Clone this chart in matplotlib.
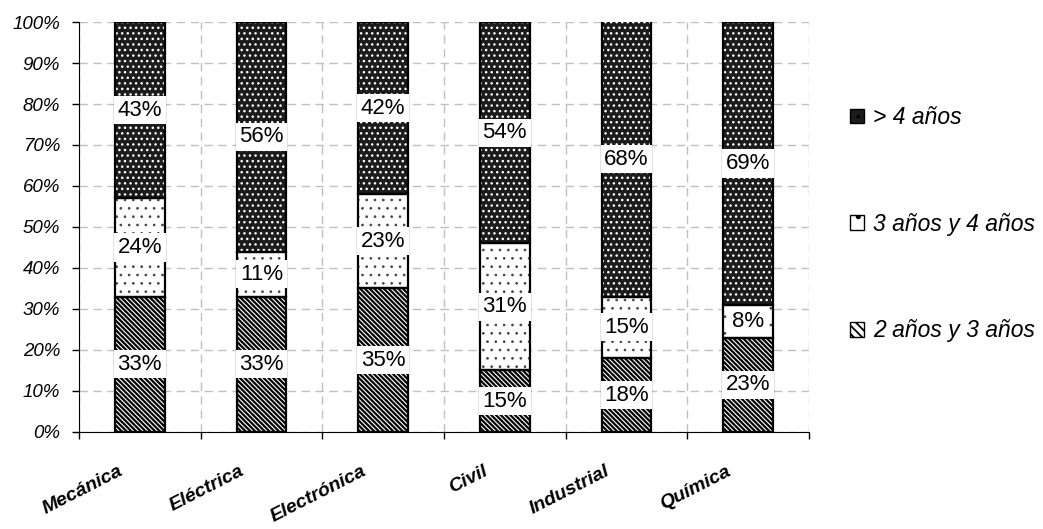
import numpy as np
import matplotlib
matplotlib.use("Agg")
import matplotlib.pyplot as plt
from matplotlib.patches import Patch
from matplotlib.ticker import FixedLocator, PercentFormatter
from matplotlib.transforms import ScaledTranslation

plt.rcParams['font.family'] = ['Liberation Sans', 'DejaVu Sans']
plt.rcParams['hatch.linewidth'] = 1.3

carreras = ['Mecánica', 'Eléctrica', 'Electrónica', 'Civil', 'Industrial', 'Química']
series = ['2 años y 3 años', '3 años y 4 años', '> 4 años']
dos_tres = [33, 33, 35, 15, 18, 23]
tres_cuatro = [24, 11, 23, 31, 15, 8]
mas_cuatro = [43, 56, 42, 54, 68, 69]

fig = plt.figure(figsize=(10.43, 5.29), dpi=100)
ax = fig.add_axes([0.0757, 0.1834, 0.6999, 0.7750])

x = np.arange(len(carreras))
ancho = 0.41

# fondo, trama, color de trama, grosor de trama
estilos = [
    ('white', '\\' * 7, 'black', 1.6),
    ('white', '..', '#444444', 0.7),
    ('#1c1c1c', '...', 'white', 1.0),
]

base = np.zeros(len(carreras))
for valores, (fondo, trama, color_trama, lw_trama) in zip([dos_tres, tres_cuatro, mas_cuatro], estilos):
    v = np.array(valores, dtype=float)
    barras = ax.bar(x, v, ancho, bottom=base, color=fondo, hatch=trama, edgecolor=color_trama,
                    linewidth=0, zorder=2)
    for p in barras:
        if hasattr(p, 'set_hatch_linewidth'):
            p.set_hatch_linewidth(lw_trama)
    ax.bar(x, v, ancho, bottom=base, fill=False, edgecolor='black', linewidth=1.6, zorder=3)
    for xi, b, h in zip(x, base, v):
        yc = min(b + h / 2, (b + 100) / 2)
        ax.text(xi, yc, f'{int(h)}%', ha='center', va='center', fontsize=16, zorder=4,
                bbox=dict(facecolor='white', edgecolor='none', pad=2.5))
    base = base + v

ax.set_xlim(-0.5, len(carreras) - 0.5)
ax.set_ylim(0, 100)
ax.yaxis.set_major_locator(FixedLocator(np.arange(0, 101, 10)))
ax.yaxis.set_major_formatter(PercentFormatter(decimals=0))
for t in ax.get_yticklabels():
    t.set_fontstyle('italic')
    t.set_fontsize(13.5)

ax.set_xticks(x)
ax.set_xticklabels(carreras, rotation=27, ha='right', rotation_mode='anchor',
                   fontsize=14, fontweight='bold', fontstyle='italic')
ax.tick_params(axis='x', which='major', length=0, pad=22)
desplaza = ScaledTranslation(-0.22, 0, fig.dpi_scale_trans)
for t in ax.get_xticklabels():
    t.set_transform(t.get_transform() + desplaza)
ax.xaxis.set_minor_locator(FixedLocator(np.arange(-0.5, len(carreras), 1)))
ax.tick_params(axis='x', which='minor', length=5, direction='out', width=1)
ax.tick_params(axis='y', length=5, direction='out', width=1, pad=8.5)

ax.grid(True, axis='y', which='major', linestyle=(0, (6, 4)), color='#c0c0c0', linewidth=1, zorder=0)
ax.grid(True, axis='x', which='minor', linestyle=(0, (6, 4)), color='#c0c0c0', linewidth=1, zorder=0)
ax.set_axisbelow(True)
ax.spines['top'].set_visible(False)
ax.spines['right'].set_visible(False)

handles = [
    Patch(facecolor=estilos[2][0], hatch='..', edgecolor='black', label=series[2]),
    Patch(facecolor='white', hatch='.', edgecolor='black', label=series[1]),
    Patch(facecolor='white', hatch='\\\\\\\\', edgecolor='black', label=series[0]),
]
leg = fig.legend(handles=handles, loc='center left', bbox_to_anchor=(0.815, 0.576),
                 frameon=False, borderpad=0, borderaxespad=0, handlelength=0.6,
                 handleheight=0.6, handletextpad=0.4, labelspacing=3.65,
                 prop={'style': 'italic', 'size': 16.5})

fig.savefig('out.png', dpi=100)
